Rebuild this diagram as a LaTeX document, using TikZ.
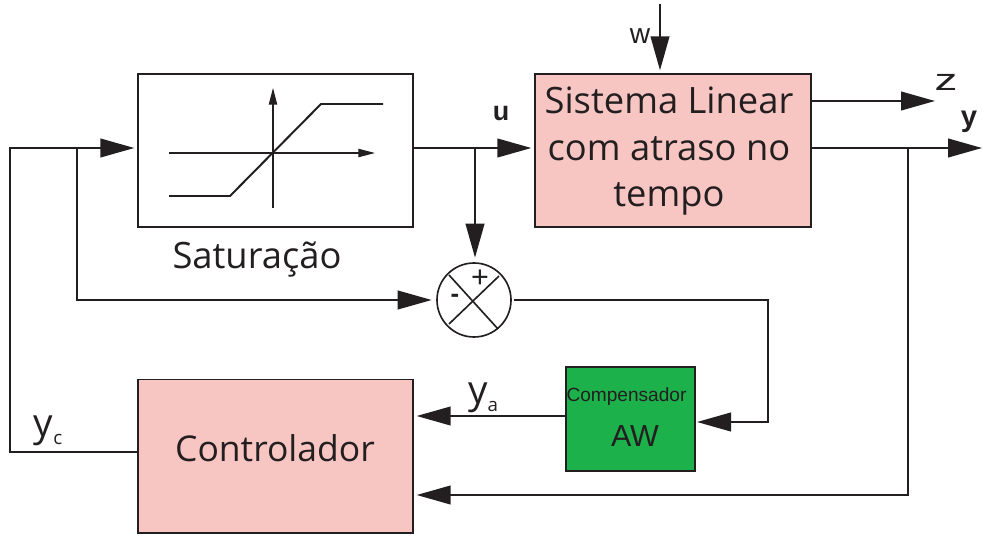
\documentclass[tikz,border=0pt]{standalone}
\usepackage{fontspec}
\setmainfont{Liberation Sans}
\newfontfamily\blockfont{Open Sans}
\usetikzlibrary{arrows.meta}
\definecolor{inkline}{HTML}{231F20}
\definecolor{blockpink}{HTML}{F8C6C2}
\definecolor{blockgreen}{HTML}{1DB14B}
\tikzset{
  blockbox/.style={draw=inkline, line width=1.7pt, inner sep=0pt, minimum width=8.25cm, minimum height=4.59cm},
  sigline/.style={draw=inkline, line width=1.7pt},
  sigarrow/.style={sigline, -{Triangle[length=1.02cm, width=0.56cm]}, shorten >=0.08cm},
  bigtext/.style={text=inkline, inner sep=0pt, font=\blockfont\fontsize{31}{39.7}\selectfont},
  symtext/.style={text=inkline, inner sep=0pt},
}
\begin{document}
\begin{tikzpicture}[x=0.03cm, y=-0.03cm]
  \useasboundingbox (0,0) rectangle (982,536);
  % blocks
  \node[blockbox] (sat) at (275.5,150.5) {};
  \node[blockbox, fill=blockpink, minimum width=8.28cm] (plant) at (673,150.5) {};
  \node[bigtext, align=center] (planttext) at (669,151.5) {Sistema Linear\\com atraso no\\tempo};
  \node[blockbox, fill=blockpink] (ctrl) at (275.5,456) {};
  \node[bigtext, font=\blockfont\fontsize{30.3}{36}\selectfont] (ctrltext) at (275,448) {Controlador};
  \node[blockbox, fill=blockgreen, minimum width=3.87cm, minimum height=3.12cm] (comp) at (630.5,419) {};
  \node[symtext, font=\fontsize{16.3}{20}\selectfont] (comptext) at (626.5,397) {Compensador};
  \node[symtext, font=\fontsize{26}{30}\selectfont] (aw) at (635,436) {AW};
  \node[circle, draw=inkline, line width=1.4pt, minimum size=2.22cm, inner sep=0pt, outer sep=0.08cm] (sum) at (474,300) {};
  % junctions
  \coordinate (jl) at (77,148);
  \coordinate (ju) at (475,148);
  \coordinate (jy) at (908,148);
  \coordinate (wtop) at (660,4);
  \coordinate (yend) at (982,148);
  \coordinate (zend) at (935,101);
  % saturation curve
  \draw[sigline, line width=1pt, -{Triangle[length=0.5cm, width=0.25cm]}] (169,153) -- (375,153);
  \draw[sigline, line width=1pt, -{Triangle[length=0.5cm, width=0.25cm]}] (273,208) -- (273,88);
  \draw[sigline] (169,196) -- (230,196) -- (321,104) -- (383,104);
  % sum cross
  \draw[sigline, line width=1.4pt] (449,275) -- (498,329);
  \draw[sigline, line width=1.4pt] (499,276) -- (449,324);
  \node[symtext, font=\fontsize{26}{30}\selectfont] (plus) at (480,279) {+};
  \node[symtext, font=\bfseries\fontsize{22}{26}\selectfont] (minus) at (455,298) {-};
  % connectors
  \draw[sigarrow] (ctrl.west |- 0,452) -- (10,452) -- (10,148) -- (sat.west |- jl);
  \draw[sigarrow] (sat.east |- ju) -- (plant.west |- ju);
  \draw[sigarrow] (ju) -- (sum.north -| ju);
  \draw[sigarrow] (jl) -- (77,300) -- (sum.west);
  \draw[sigarrow, shorten >=0.03cm] (sum.east) -- (768,300) -- (768,422) -- (comp.east |- 0,422);
  \draw[sigarrow] (comp.west |- 0,416) -- (ctrl.east |- 0,416);
  \draw[sigarrow] (jy) -- (908,495) -- (ctrl.east |- 0,495);
  \draw[sigarrow, shorten >=0pt] (plant.east |- jy) -- (yend);
  \draw[sigarrow, shorten >=0pt] (plant.east |- zend) -- (zend);
  \draw[sigarrow] (wtop) -- (plant.north -| wtop);
  % labels
  \node[bigtext] (sattext) at (257,260) {Saturação};
  \node[symtext, font=\bfseries\fontsize{23}{27}\selectfont] (ulabel) at (501,114) {u};
  \node[symtext, font=\fontsize{24}{28}\selectfont] (wlabel) at (640,36) {w};
  \node[symtext, font=\fontsize{26}{30}\selectfont, xscale=1.5] (zlabel) at (946,82) {z};
  \node[symtext, font=\bfseries\fontsize{25}{29}\selectfont] (ylabel) at (969,122) {y};
  \node[symtext, font=\blockfont\fontsize{33}{37}\selectfont] (yclabel) at (48,431) {y\raisebox{-7pt}{\fontsize{16}{18}\selectfont c}};
  \node[symtext, font=\blockfont\fontsize{33}{37}\selectfont] (yalabel) at (483,398) {y\raisebox{-7pt}{\fontsize{16}{18}\selectfont a}};
\end{tikzpicture}
\end{document}
